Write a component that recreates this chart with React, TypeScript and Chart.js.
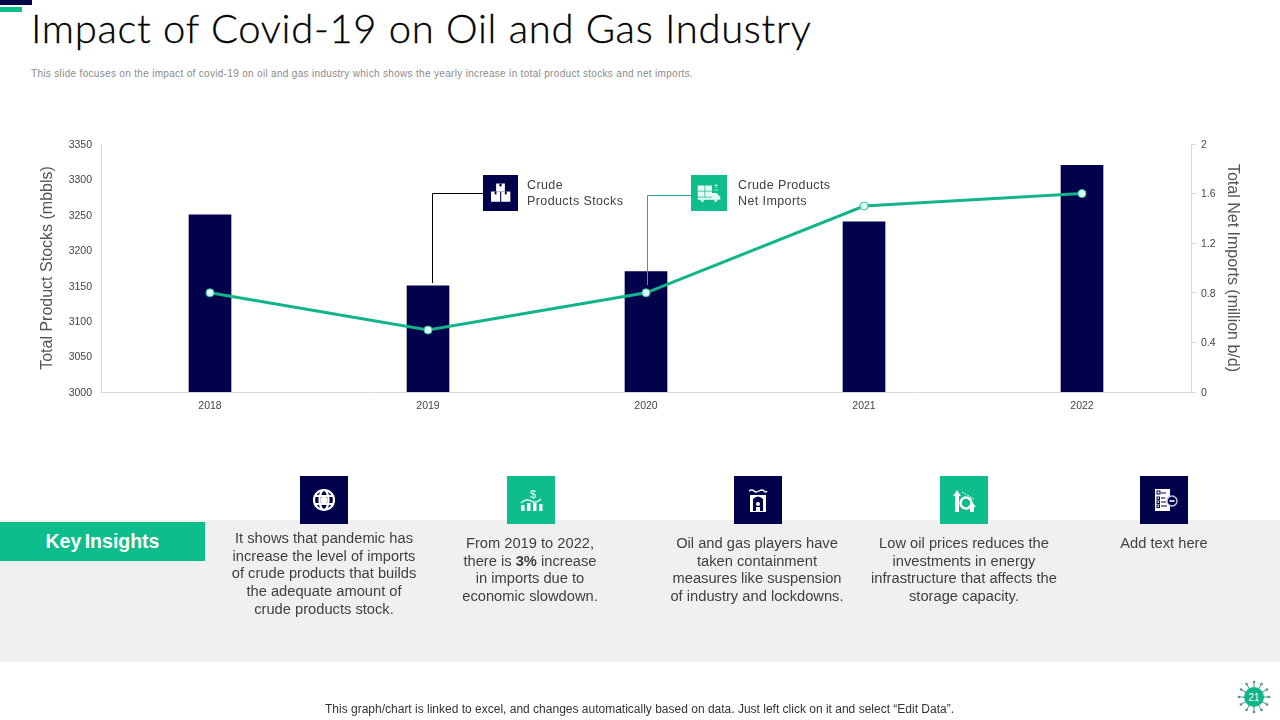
import React, { useEffect, useRef } from "react";
import { Chart, registerables } from "chart.js";

Chart.register(...registerables);

const years = ["2018", "2019", "2020", "2021", "2022"];
const productStocks = [3250, 3150, 3170, 3240, 3320];
const netImports = [0.8, 0.5, 0.8, 1.5, 1.6];
const NAVY = "#01014c";
const GREEN = "#0dbd8b";
const LINE = "#12b48a";
const sans = '"Liberation Sans", Arial, sans-serif';

type Piece = { t: string; b?: boolean };
const insights: { cx: number; top: number; lines: (string | Piece[])[] }[] = [
  { cx: 324, top: 530, lines: ["It shows that pandemic has", "increase the level of imports", "of crude products that builds", "the adequate amount of", "crude products stock."] },
  { cx: 530, top: 535, lines: ["From 2019 to 2022,", [{ t: "there is " }, { t: "3%", b: true }, { t: " increase" }], "in imports due to", "economic slowdown."] },
  { cx: 757, top: 535, lines: ["Oil and gas players have", "taken containment", "measures like suspension", "of industry and lockdowns."] },
  { cx: 964, top: 535, lines: ["Low oil prices reduces the", "investments in energy", "infrastructure that affects the", "storage capacity."] },
  { cx: 1164, top: 535, lines: ["Add text here"] },
];

function Box({ x, y, w, h, bg, children }: any) {
  return (
    <div style={{ position: "absolute", left: x, top: y, width: w, height: h, background: bg }}>
      <svg width={w} height={h} viewBox="0 0 48 48" style={{ display: "block" }}>
        {children}
      </svg>
    </div>
  );
}

const Globe = () => (
  <g fill="none" stroke="#fff" strokeWidth="2.2">
    <circle cx="24" cy="24" r="10" />
    <ellipse cx="24" cy="24" rx="4.5" ry="10" />
    <path d="M14.5 20h19M14.5 28h19" />
    <circle cx="24" cy="24" r="2.5" fill="#fff" />
  </g>
);
const Dollar = () => (
  <g fill="#fff">
    <text x="26" y="22" fontSize="11" fontFamily={sans} textAnchor="middle">$</text>
    <rect x="14" y="29" width="3.5" height="6" />
    <rect x="20" y="27" width="3.5" height="8" />
    <rect x="26" y="27" width="3.5" height="8" />
    <rect x="32" y="28" width="3.5" height="7" />
    <path d="M14 27q5-5 10-2t10-2" fill="none" stroke="#fff" strokeWidth="1.2" />
  </g>
);
const Plant = () => (
  <g>
    <path d="M16 36V19h16v17z" fill="#fff" />
    <path d="M19 35V23q5-5 10 0v12z" fill={NAVY} />
    <circle cx="24" cy="28" r="2" fill="#fff" />
    <path d="M22 31h4v4h-4z" fill="#fff" />
    <path d="M15 15q3-2 5 0t5 0 5 0 3 0" fill="none" stroke="#fff" strokeWidth="1.4" />
  </g>
);
const Invest = () => (
  <g fill="#fff">
    <path d="M15 36V20h-2l4-6 4 6h-2v16z" />
    <circle cx="26" cy="27" r="5.5" fill="none" stroke="#fff" strokeWidth="2.5" />
    <path d="M30 36v-5h-2l4-5 4 5h-2v5z" />
    <path d="M22 16l12 7" stroke="#fff" strokeWidth="1" strokeDasharray="2 1" />
  </g>
);
const Checklist = () => (
  <g>
    <rect x="15" y="13" width="15" height="22" fill="#fff" />
    <g stroke={NAVY} strokeWidth="1" fill="none">
      <rect x="17" y="15" width="3" height="3" />
      <rect x="17" y="21" width="2.5" height="2.5" />
      <rect x="17" y="25" width="2.5" height="2.5" />
      <rect x="17" y="29" width="2.5" height="2.5" />
      <path d="M21 17h5M21 22h4M21 26h5M21 30h6" />
    </g>
    <circle cx="32" cy="25" r="5" fill={NAVY} stroke="#c9c9e6" strokeWidth="1.4" />
    <path d="M29.5 25h5" stroke="#fff" strokeWidth="1.6" />
  </g>
);
const Boxes = () => (
  <g fill="#fff" stroke={NAVY} strokeWidth="0">
    <rect x="18" y="11" width="12" height="11" />
    <rect x="11" y="22" width="12.5" height="14" />
    <rect x="25" y="22" width="12.5" height="14" />
    <rect x="22.5" y="11" width="3" height="4" fill={NAVY} />
    <rect x="16" y="22" width="2.5" height="4" fill={NAVY} />
    <rect x="30" y="22" width="2.5" height="4" fill={NAVY} />
  </g>
);
const Truck = () => (
  <g fill="#fff" opacity="0.9">
    <rect x="9" y="14" width="9" height="7" />
    <rect x="19" y="14" width="9" height="7" />
    <rect x="9" y="22" width="9" height="7" />
    <rect x="19" y="22" width="9" height="7" />
    <path d="M28 24h6l5 5v4H9v-3h19z" />
    <path d="M31 14h5M33.5 12v5M31 20h5" stroke="#fff" strokeWidth="1" />
    <circle cx="15" cy="34" r="2" />
    <circle cx="33" cy="34" r="2" />
  </g>
);

function Badge() {
  const spikes = [0, 30, 60, 90, 120, 150, 180, 210, 240, 270, 300, 330];
  return (
    <svg width="36" height="36" viewBox="-18 -18 36 36" style={{ position: "absolute", left: 1236, top: 679 }}>
      {spikes.map((a) => {
        const r = (a * Math.PI) / 180;
        return (
          <g key={a}>
            <line x1={Math.cos(r) * 9} y1={Math.sin(r) * 9} x2={Math.cos(r) * 15} y2={Math.sin(r) * 15} stroke="#3d9c85" strokeWidth="1" />
            <circle cx={Math.cos(r) * 15} cy={Math.sin(r) * 15} r="1.3" fill="#5b8f84" />
          </g>
        );
      })}
      <circle r="10" fill={LINE} />
      <text y="3.6" textAnchor="middle" fontSize="10" fontFamily={sans} fill="#fff">21</text>
    </svg>
  );
}

const plain = (v: any) => String(v);

export default function App() {
  const ref = useRef<HTMLCanvasElement>(null);
  useEffect(() => {
    document.body.style.margin = "0";
    const tickColor = "#444444";
    const chart = new Chart(ref.current!, {
      type: "bar",
      data: {
        labels: years,
        datasets: [
          {
            type: "line",
            label: "Crude Products Net Imports",
            data: netImports,
            yAxisID: "y1",
            borderColor: LINE,
            borderWidth: 3,
            pointBackgroundColor: "#dffdf2",
            pointBorderColor: "#35c9a2",
            pointBorderWidth: 1,
            pointRadius: 4,
            tension: 0,
            order: 0,
          },
          {
            type: "bar",
            label: "Crude Products Stocks",
            data: productStocks,
            yAxisID: "y",
            backgroundColor: NAVY,
            barThickness: 42,
            order: 1,
          },
        ],
      },
      options: {
        responsive: false,
        animation: false,
        layout: { padding: { left: 38, right: 38, top: 144, bottom: 308 } },
        plugins: { legend: { display: false }, tooltip: { enabled: false } },
        scales: {
          x: {
            afterFit: (a: any) => { a.height = 20; },
            grid: { display: true, drawOnChartArea: false, drawTicks: false, color: "#d9d9d9" },
            border: { color: "#d9d9d9" },
            ticks: { color: tickColor, font: { family: sans, size: 10.5 }, padding: 7.5, maxRotation: 0 },
          },
          y: {
            position: "left",
            min: 3000,
            max: 3350,
            afterFit: (a: any) => { a.width = 63; },
            grid: { display: true, drawOnChartArea: false, drawTicks: false, color: "#d9d9d9" },
            border: { color: "#d9d9d9" },
            ticks: { stepSize: 50, color: tickColor, font: { family: sans, size: 10.5 }, padding: 9, callback: plain, labelOffset: 1 },
            title: { display: true, text: "Total Product Stocks (mbbls)", color: "#555555", font: { family: sans, size: 16 }, padding: 0 },
          },
          y1: {
            position: "right",
            min: 0,
            max: 2,
            afterFit: (a: any) => { a.width = 51; },
            grid: { display: true, drawOnChartArea: false, tickLength: 5, color: "#d9d9d9" },
            border: { color: "#d9d9d9" },
            ticks: { stepSize: 0.4, color: tickColor, font: { family: sans, size: 10.5 }, padding: 5, callback: plain, labelOffset: 1 },
            title: { display: true, text: "Total Net Imports (million b/d)", color: "#555555", font: { family: sans, size: 16 }, padding: 0 },
          },
        },
      },
    });
    return () => chart.destroy();
  }, []);

  return (
    <div style={{ position: "relative", width: 1280, height: 720, overflow: "hidden", background: "#fff", fontFamily: sans }}>
      <div style={{ position: "absolute", left: 0, top: 0, width: 32, height: 5, background: NAVY }} />
      <div style={{ position: "absolute", left: 0, top: 7, width: 22, height: 5, background: GREEN }} />
      <div style={{ position: "absolute", left: 31, top: 4, fontFamily: "Lato, sans-serif", fontWeight: 300, fontSize: 40, lineHeight: "48px", color: "#000", whiteSpace: "pre", letterSpacing: 0.7, WebkitTextStroke: "0.3px #000" }}>
        Impact of Covid-19 on Oil and Gas Industry
      </div>
      <div style={{ position: "absolute", left: 31, top: 68, fontSize: 10, lineHeight: "12px", color: "#8a8a8a", whiteSpace: "pre", letterSpacing: 0.32 }}>
        This slide focuses on the impact of covid-19 on oil and gas industry which shows the yearly increase in total product stocks and net imports.
      </div>

      <div style={{ position: "absolute", left: 0, top: 520, width: 1280, height: 142, background: "#f0f0f0" }} />
      <canvas ref={ref} width={1280} height={720} style={{ position: "absolute", left: 0, top: 0, width: 1280, height: 720 }} />

      <svg width="1280" height="720" style={{ position: "absolute", left: 0, top: 0, pointerEvents: "none" }}>
        <path d="M432.5 283V193.5H483" fill="none" stroke="#000" strokeWidth="1" />
        <path d="M647.5 285V195.5H691" fill="none" stroke="#2fa596" strokeWidth="1" />
      </svg>
      <Box x={483} y={175} w={35} h={36} bg={NAVY}><Boxes /></Box>
      <Box x={691} y={175} w={36} h={36} bg={GREEN}><Truck /></Box>
      <div style={{ position: "absolute", left: 527, top: 177, fontSize: 12.5, lineHeight: "16px", color: "#404040", whiteSpace: "pre", letterSpacing: 0.4 }}>{"Crude\nProducts Stocks"}</div>
      <div style={{ position: "absolute", left: 738, top: 177, fontSize: 12.5, lineHeight: "16px", color: "#404040", whiteSpace: "pre", letterSpacing: 0.4 }}>{"Crude Products\nNet Imports"}</div>

      <Box x={300} y={476} w={48} h={48} bg={NAVY}><Globe /></Box>
      <Box x={507} y={476} w={48} h={48} bg={GREEN}><Dollar /></Box>
      <Box x={734} y={476} w={48} h={48} bg={NAVY}><Plant /></Box>
      <Box x={940} y={476} w={48} h={48} bg={GREEN}><Invest /></Box>
      <Box x={1140} y={476} w={48} h={48} bg={NAVY}><Checklist /></Box>

      <div style={{ position: "absolute", left: 0, top: 522, width: 205, height: 39, background: GREEN, color: "#fff", fontWeight: 700, fontSize: 19.5, wordSpacing: -2, lineHeight: "39px", textAlign: "center" }}>Key Insights</div>

      {insights.map((ins, i) => (
        <div key={i} style={{ position: "absolute", left: ins.cx - 110, width: 220, top: ins.top, textAlign: "center", fontSize: 14.7, lineHeight: "17.7px", color: "#404040", whiteSpace: "pre" }}>
          {ins.lines.map((l, j) => (
            <div key={j}>
              {typeof l === "string" ? l : l.map((p, k) => <span key={k} style={{ fontWeight: p.b ? 700 : 400 }}>{p.t}</span>)}
            </div>
          ))}
        </div>
      ))}

      <div style={{ position: "absolute", left: 0, width: 1279, top: 702, textAlign: "center", fontSize: 12, lineHeight: "14px", color: "#333", whiteSpace: "pre" }}>
        This graph/chart is linked to excel, and changes automatically based on data. Just left click on it and select “Edit Data”.
      </div>
      <Badge />
    </div>
  );
}
